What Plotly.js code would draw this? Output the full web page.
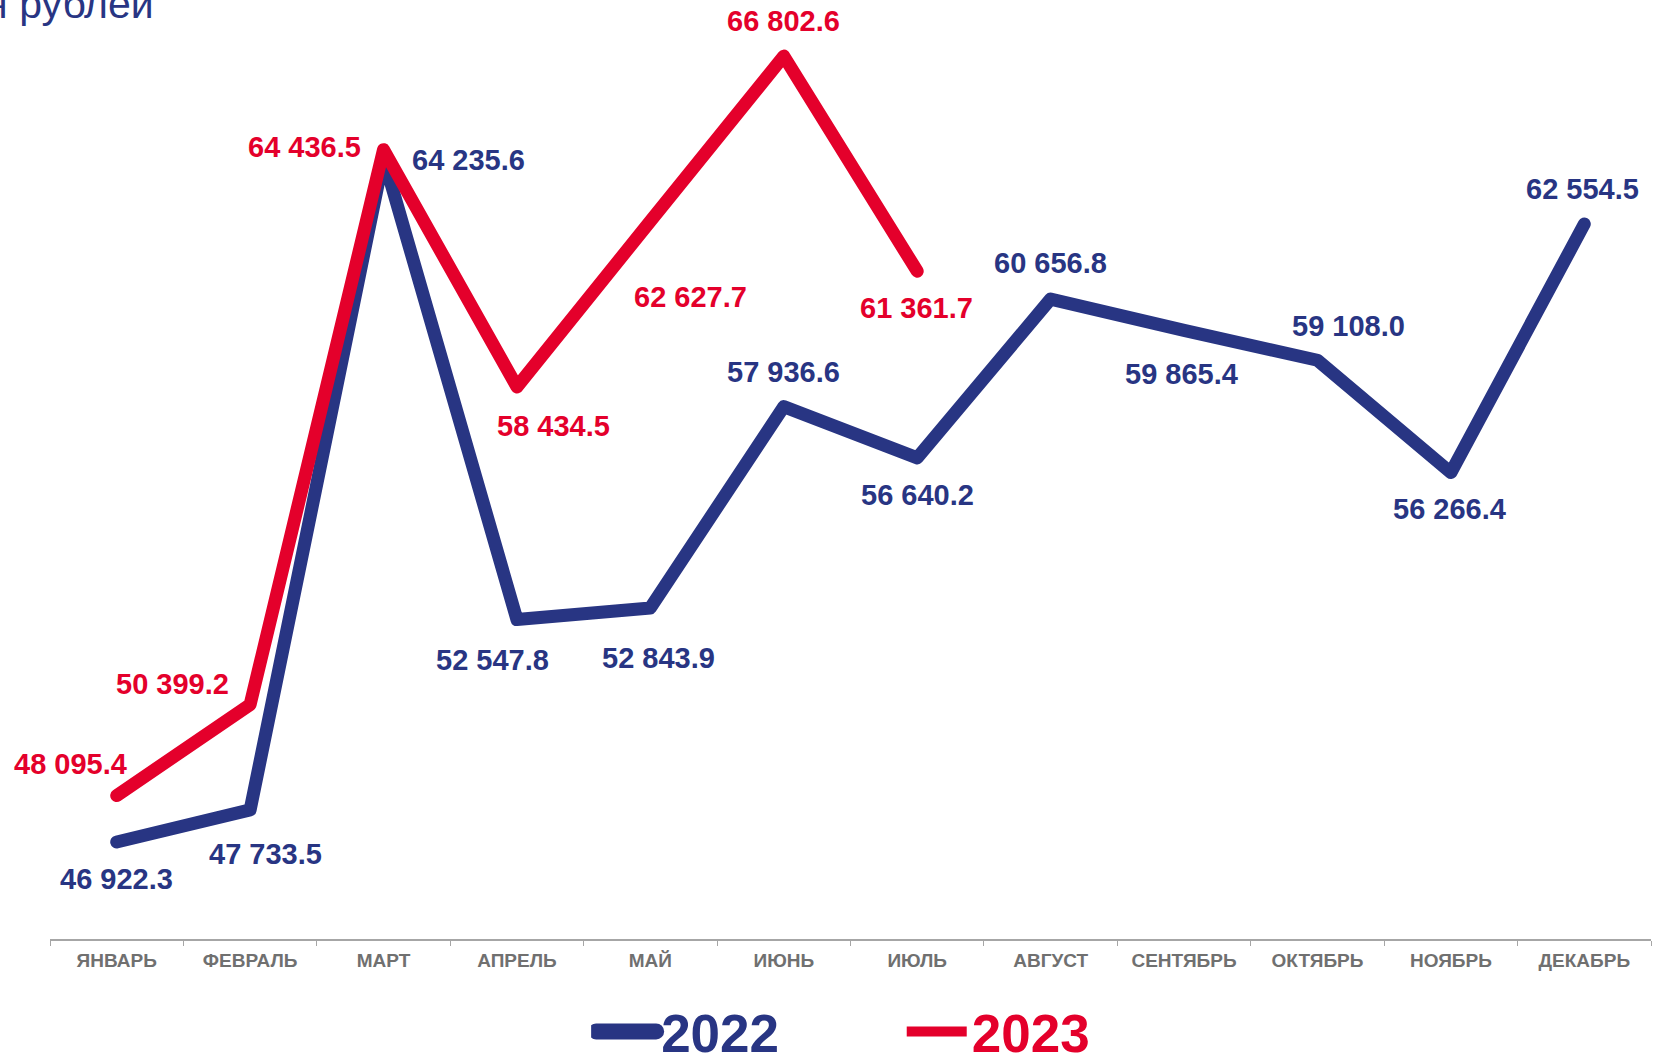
<!DOCTYPE html>
<html>
<head>
<meta charset="utf-8">
<script src="https://cdn.plot.ly/plotly-3.0.1.min.js"></script>
<style>
  html, body { margin: 0; padding: 0; background: #ffffff; }
  #chart { width: 1665px; height: 1061px; }
</style>
</head>
<body>
<div id="chart"></div>
<script>
// ---- data ----
const months = ["ЯНВАРЬ", "ФЕВРАЛЬ", "МАРТ", "АПРЕЛЬ", "МАЙ", "ИЮНЬ", "ИЮЛЬ", "АВГУСТ", "СЕНТЯБРЬ", "ОКТЯБРЬ", "НОЯБРЬ", "ДЕКАБРЬ"];
const values2022 = [46922.3, 47733.5, 64235.6, 52547.8, 52843.9, 57936.6, 56640.2, 60656.8, 59865.4, 59108.0, 56266.4, 62554.5];
const values2023 = [48095.4, 50399.2, 64436.5, 58434.5, 62627.7, 66802.6, 61361.7];
const seriesNames = ["2022", "2023"];
const unitTitle = "млн рублей";

// ---- styles ----
const BLUE = "#283583";
const RED = "#e4002b";
const LABEL_FONT = { family: "Liberation Sans, Arial, sans-serif", size: 29, weight: 700 };

// label placement offsets (pixels) per point: [xshift, yshift, xanchor]
const off2022 = [
  [0, -37, "center"], [15, -44, "center"], [26, -2, "left"], [-24, -40, "center"],
  [8, -50, "center"], [0, 35, "center"], [0, -37, "center"], [0, 36, "center"],
  [-3, -44, "center"], [31, 34, "center"], [-1, -36, "center"], [-2, 35, "center"]
];
const off2023 = [
  [-46, 32, "center"], [-19, 21, "right"], [-21, 3, "right"], [37, -39, "center"],
  [40, -76, "center"], [0, 35, "center"], [-1, -37, "center"]
];

function fmt(v) {
  const s = v.toFixed(1);
  const [ip, dp] = s.split(".");
  return ip.replace(/\B(?=(\d{3})+(?!\d))/g, " ") + "." + dp;
}

function labels(vals, offs, color) {
  return vals.map((v, i) => ({
    x: months[i], y: v, xref: "x", yref: "y",
    text: fmt(v), showarrow: false,
    xshift: offs[i][0], yshift: offs[i][1], xanchor: offs[i][2], yanchor: "middle",
    font: Object.assign({ color: color }, LABEL_FONT)
  }));
}

const traces = [
  {
    type: "scatter", mode: "lines", name: seriesNames[0],
    x: months.slice(0, values2022.length), y: values2022,
    line: { color: BLUE, width: 13, shape: "linear" },
    hoverinfo: "skip", legend: "legend"
  },
  {
    type: "scatter", mode: "lines", name: seriesNames[1],
    x: months.slice(0, values2023.length), y: values2023,
    line: { color: RED, width: 13, shape: "linear" },
    hoverinfo: "skip", legend: "legend2"
  }
];

const legendBase = {
  orientation: "h", xref: "paper", yref: "paper",
  xanchor: "left", yanchor: "middle", y: -0.1006,
  bgcolor: "rgba(0,0,0,0)", itemwidth: 60, borderwidth: 0,
  tracegroupgap: 0, itemclick: false, itemdoubleclick: false
};

const layout = {
  width: 1665, height: 1061,
  margin: { l: 50, r: 14, t: 20, b: 122, autoexpand: false },
  paper_bgcolor: "#ffffff", plot_bgcolor: "#ffffff",
  showlegend: true,
  legend: Object.assign({}, legendBase, {
    x: 0.338, font: { family: "Liberation Sans, Arial, sans-serif", size: 53, weight: 700, color: BLUE }
  }),
  legend2: Object.assign({}, legendBase, {
    x: 0.532, font: { family: "Liberation Sans, Arial, sans-serif", size: 53, weight: 700, color: RED }
  }),
  xaxis: {
    type: "category", categoryorder: "array", categoryarray: months,
    range: [-0.5, 11.5], tickson: "boundaries",
    ticks: "outside", ticklen: 5, tickwidth: 1, tickcolor: "#a6a6a6",
    ticklabelstandoff: 3,
    showline: true, linecolor: "#a6a6a6", linewidth: 2,
    showgrid: false, zeroline: false, fixedrange: true, automargin: false,
    tickfont: { family: "Liberation Sans, Arial, sans-serif", size: 19, weight: 700, color: "#707070" }
  },
  yaxis: {
    range: [44468, 67716], visible: false, showgrid: false, zeroline: false, fixedrange: true
  },
  annotations: [
    {
      text: unitTitle, xref: "paper", yref: "paper", x: 0.0662, y: 1.0174,
      xanchor: "right", yanchor: "middle", showarrow: false,
      font: { family: "Liberation Sans, Arial, sans-serif", size: 41, color: BLUE }
    }
  ].concat(labels(values2022, off2022, BLUE), labels(values2023, off2023, RED))
};

Plotly.newPlot("chart", traces, layout, { displayModeBar: false, staticPlot: true }).then(function () {
  document.querySelectorAll(".scatterlayer .js-line, .legend .js-line").forEach(function (p) {
    p.style.strokeLinecap = "round";
    p.style.strokeLinejoin = "round";
  });
  document.querySelectorAll(".legend .js-line").forEach(function (p) {
    p.style.strokeWidth = "16px";
  });
});
</script>
</body>
</html>
